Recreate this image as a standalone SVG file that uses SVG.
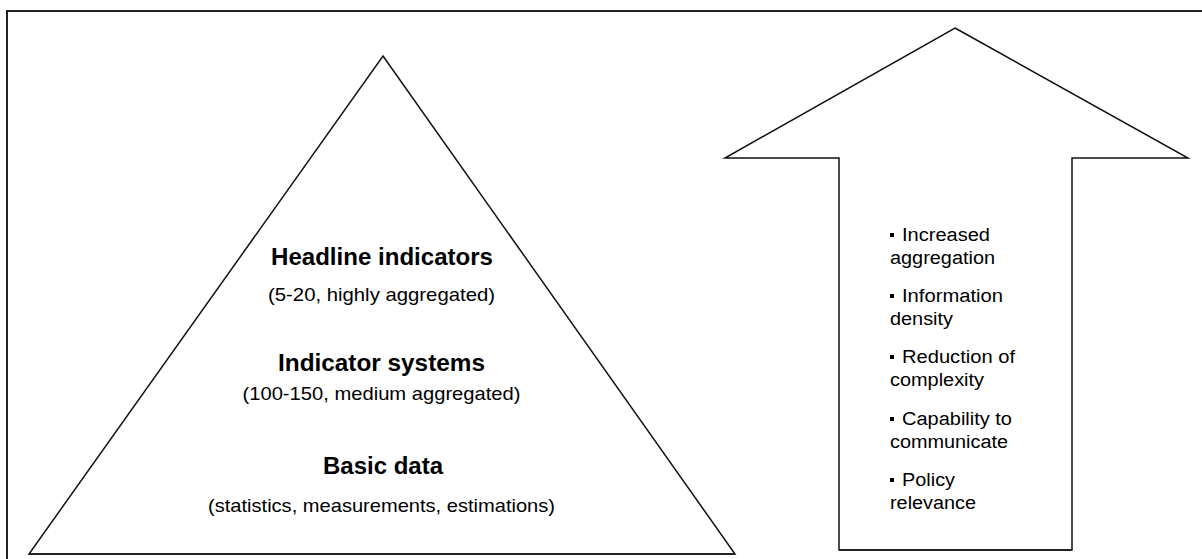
<svg xmlns="http://www.w3.org/2000/svg" width="1202" height="559" viewBox="0 0 1202 559">
  <style>
    .frame { fill: none; stroke: #222; stroke-width: 2; }
    .shape { fill: #fff; stroke: #111; stroke-width: 1.5; stroke-linejoin: miter; }
    .base { stroke: #222; stroke-width: 2.2; }
    text { font-family: "Liberation Sans", Arial, sans-serif; fill: #000; }
    .head { font-size: 23px; font-weight: bold; text-anchor: middle; }
    .sub { font-size: 19px; text-anchor: middle; }
    .item { font-size: 18px; }
  </style>

  <rect width="1202" height="559" fill="#fff"/>

  <!-- page frame (top and left edges) -->
  <path class="frame" d="M7,559 V11 H1202"/>

  <!-- pyramid of indicator levels -->
  <g id="pyramid">
    <polygon class="shape" points="383,56 735,554 29,554"/>
    <line class="base" x1="29" y1="554" x2="735" y2="554"/>
    <text class="head" x="382" y="265" textLength="222" lengthAdjust="spacingAndGlyphs">Headline indicators</text>
    <text class="sub" x="381.5" y="301" textLength="227" lengthAdjust="spacingAndGlyphs">(5-20, highly aggregated)</text>
    <text class="head" x="381.5" y="371" textLength="207" lengthAdjust="spacingAndGlyphs">Indicator systems</text>
    <text class="sub" x="381.5" y="400" textLength="278" lengthAdjust="spacingAndGlyphs">(100-150, medium aggregated)</text>
    <text class="head" x="383" y="474" textLength="120" lengthAdjust="spacingAndGlyphs">Basic data</text>
    <text class="sub" x="381.5" y="512" textLength="347" lengthAdjust="spacingAndGlyphs">(statistics, measurements, estimations)</text>
  </g>

  <!-- upward arrow with list of properties -->
  <g id="arrow">
    <polygon class="shape" points="955,28 1188,158 1072,158 1072,550 839,550 839,158 725,158"/>
    <line class="base" x1="839" y1="550" x2="1072" y2="550"/>
    <g class="item">
      <rect x="890" y="233" width="4" height="4"/>
      <text x="902" y="241" textLength="88" lengthAdjust="spacingAndGlyphs">Increased</text>
      <text x="890" y="264" textLength="105" lengthAdjust="spacingAndGlyphs">aggregation</text>

      <rect x="890" y="294" width="4" height="4"/>
      <text x="902" y="302" textLength="101" lengthAdjust="spacingAndGlyphs">Information</text>
      <text x="890" y="325" textLength="63" lengthAdjust="spacingAndGlyphs">density</text>

      <rect x="890" y="355" width="4" height="4"/>
      <text x="902" y="363" textLength="113" lengthAdjust="spacingAndGlyphs">Reduction of</text>
      <text x="890" y="386" textLength="94" lengthAdjust="spacingAndGlyphs">complexity</text>

      <rect x="890" y="417" width="4" height="4"/>
      <text x="902" y="425" textLength="110" lengthAdjust="spacingAndGlyphs">Capability to</text>
      <text x="890" y="448" textLength="118" lengthAdjust="spacingAndGlyphs">communicate</text>

      <rect x="890" y="478" width="4" height="4"/>
      <text x="902" y="486" textLength="53" lengthAdjust="spacingAndGlyphs">Policy</text>
      <text x="890" y="509" textLength="86" lengthAdjust="spacingAndGlyphs">relevance</text>
    </g>
  </g>
</svg>
